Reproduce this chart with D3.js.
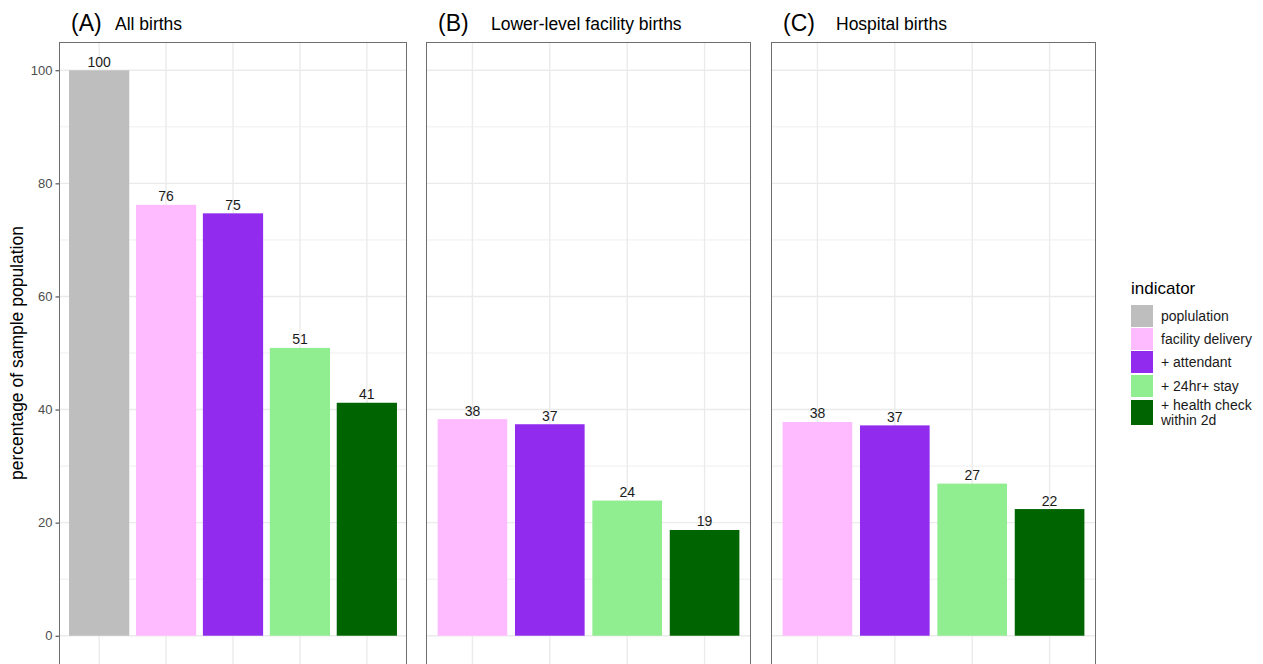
<!DOCTYPE html>
<html>
<head>
<meta charset="utf-8">
<script src="https://cdn.jsdelivr.net/npm/d3@7"></script>
<style>
  html, body { margin: 0; padding: 0; background: #fff; }
  svg { display: block; font-family: "Liberation Sans", Arial, Helvetica, sans-serif; }
</style>
</head>
<body>
<svg id="chart" width="1263" height="664"></svg>
<script>
// Indicator categories (legend order) and their fill colours
const indicators = ["poplulation", "facility delivery", "+ attendant", "+ 24hr+ stay", "+ health check\nwithin 2d"];
const indicatorColors = ["#BEBEBE", "#FFBBFF", "#912CEE", "#90EE90", "#006400"];

// Panel headings
const panelTags = ["(A)", "(B)", "(C)"];
const panelTitles = ["All births", "Lower-level facility births", "Hospital births"];

// Percentage of sample population per indicator
const allBirths = [100, 76.2, 74.7, 50.9, 41.2];            // all five indicators
const lowerLevelBirths = [38.3, 37.4, 23.9, 18.7];          // facility delivery .. health check
const hospitalBirths = [37.8, 37.2, 26.9, 22.4];            // facility delivery .. health check

const yTicks = [0, 20, 40, 60, 80, 100];
const yMinorTicks = [10, 30, 50, 70, 90];

const svg = d3.select("#chart");

// Panel placement
const panelTop = 42, panelBottom = 664;
const panels = [
  { tag: panelTags[0], title: panelTitles[0], cats: indicators, values: allBirths, x0: 59, x1: 407, axis: true, titleGap: 44 },
  { tag: panelTags[1], title: panelTitles[1], cats: indicators.slice(1), values: lowerLevelBirths, x0: 426, x1: 751, axis: false, titleGap: 53 },
  { tag: panelTags[2], title: panelTitles[2], cats: indicators.slice(1), values: hospitalBirths, x0: 771, x1: 1096, axis: false, titleGap: 53 }
];

const color = d3.scaleOrdinal().domain(indicators).range(indicatorColors);

// Shared y scale with 5% expansion on both ends
const y = d3.scaleLinear().domain([-5, 105]).range([panelBottom, panelTop]);

panels.forEach(p => {
  const x = d3.scaleBand()
    .domain(p.cats)
    .range([p.x0, p.x1])
    .paddingInner(0.1)
    .paddingOuter(0.15);

  const g = svg.append("g");

  // background + grid
  g.append("rect")
    .attr("x", p.x0).attr("y", panelTop)
    .attr("width", p.x1 - p.x0).attr("height", panelBottom - panelTop)
    .attr("fill", "#fff");

  g.selectAll("line.minor").data(yMinorTicks).join("line")
    .attr("x1", p.x0).attr("x2", p.x1)
    .attr("y1", d => y(d)).attr("y2", d => y(d))
    .attr("stroke", "#EBEBEB").attr("stroke-width", 0.8);

  g.selectAll("line.major").data(yTicks).join("line")
    .attr("x1", p.x0).attr("x2", p.x1)
    .attr("y1", d => y(d)).attr("y2", d => y(d))
    .attr("stroke", "#EBEBEB").attr("stroke-width", 1.4);

  g.selectAll("line.vgrid").data(p.cats).join("line")
    .attr("x1", d => x(d) + x.bandwidth() / 2).attr("x2", d => x(d) + x.bandwidth() / 2)
    .attr("y1", panelTop).attr("y2", panelBottom)
    .attr("stroke", "#EBEBEB").attr("stroke-width", 1.4);

  // bars
  const rows = p.cats.map((c, i) => ({ cat: c, value: p.values[i] }));
  g.selectAll("rect.bar").data(rows).join("rect")
    .attr("x", d => x(d.cat))
    .attr("width", x.bandwidth())
    .attr("y", d => y(d.value))
    .attr("height", d => y(0) - y(d.value))
    .attr("fill", d => color(d.cat));

  // value labels
  g.selectAll("text.lbl").data(rows).join("text")
    .attr("x", d => x(d.cat) + x.bandwidth() / 2)
    .attr("y", d => y(d.value) - 3.5)
    .attr("text-anchor", "middle")
    .attr("font-size", 14)
    .attr("fill", "#1a1a1a")
    .text(d => d3.format(".0f")(d.value));

  // panel border
  g.append("rect")
    .attr("x", p.x0 + 0.5).attr("y", panelTop + 0.5)
    .attr("width", p.x1 - p.x0 - 1).attr("height", panelBottom - panelTop)
    .attr("fill", "none").attr("stroke", "#6e6e6e").attr("stroke-width", 1);

  // y axis on the first panel only
  if (p.axis) {
    const axis = d3.axisLeft(y).tickValues(yTicks).tickSize(3.5).tickPadding(3);
    const ag = svg.append("g").attr("transform", `translate(${p.x0},0)`).call(axis);
    ag.select(".domain").remove();
    ag.selectAll(".tick line").attr("stroke", "#333").attr("stroke-width", 1);
    ag.selectAll(".tick text")
      .attr("font-size", 13)
      .attr("fill", "#4D4D4D")
      .attr("font-family", "Liberation Sans, Arial, sans-serif");
  }

  // heading: tag + title
  g.append("text")
    .attr("x", p.x0 + 12).attr("y", 31)
    .attr("font-size", 23).attr("fill", "#000")
    .text(p.tag);
  g.append("text")
    .attr("x", p.x0 + 12 + p.titleGap).attr("y", 30)
    .attr("font-size", 17.5).attr("fill", "#000")
    .text(p.title);
});

// y axis title
svg.append("text")
  .attr("transform", `translate(23,${(panelTop + panelBottom) / 2}) rotate(-90)`)
  .attr("text-anchor", "middle")
  .attr("font-size", 17.5)
  .attr("fill", "#000")
  .text("percentage of sample population");

// legend
const legend = svg.append("g").attr("transform", "translate(1131,0)");
legend.append("text")
  .attr("x", 0).attr("y", 294)
  .attr("font-size", 17).attr("fill", "#000")
  .text("indicator");

const keyTops = [305, 328, 351, 375, 400];
const keyHeights = [22, 22, 22, 22, 25];
indicators.forEach((name, i) => {
  legend.append("rect")
    .attr("x", 0).attr("y", keyTops[i])
    .attr("width", 22).attr("height", keyHeights[i])
    .attr("fill", color(name));
  const lines = name.split("\n");
  const t = legend.append("text")
    .attr("font-size", 14).attr("fill", "#1a1a1a");
  const cy = keyTops[i] + keyHeights[i] / 2;
  const lh = 15;
  lines.forEach((ln, j) => {
    t.append("tspan")
      .attr("x", 30)
      .attr("y", cy + (j - (lines.length - 1) / 2) * lh + 5)
      .text(ln);
  });
});
</script>
</body>
</html>
